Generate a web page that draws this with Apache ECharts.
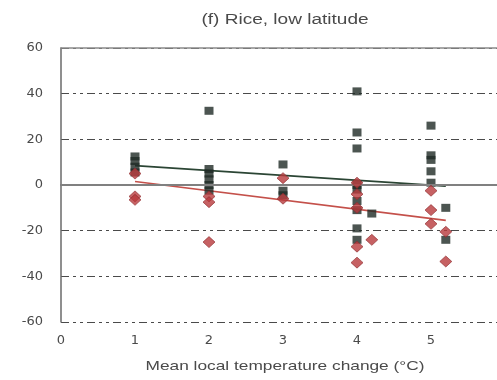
<!DOCTYPE html>
<html>
<head>
<meta charset="utf-8">
<script src="https://cdn.jsdelivr.net/npm/echarts@6/dist/echarts.min.js"></script>
<style>
  html, body { margin: 0; padding: 0; background: #fff; }
  #chart { width: 497px; height: 380px; }
</style>
</head>
<body>
<div id="chart"></div>
<script>
// Temperature-change groups (°C) at which the yield results are plotted
const tempSteps = [1, 2, 3, 4, 4.2, 5, 5.2];

// Yield change (%) without adaptation (squares), one list per temperature step
const squareValues = [
  [12.5, 10.5, 8, 5.5],
  [32.5, 7, 5, 2.5, 0, -2.5],
  [9, -2.5, -4.5],
  [41, 23, 16, 0, -2, -7, -11, -19, -24],
  [-12.5],
  [26, 13, 11, 6, 1],
  [-10, -24]
];

// Yield change (%) with adaptation (diamonds)
const diamondValues = [
  [5, -5, -6.5],
  [-5, -7.5, -25],
  [3, -6],
  [1, -4, -10, -27, -34],
  [-24],
  [-2.5, -11, -17],
  [-20.5, -33.5]
];

// Fitted trend lines: [temperature, yield change]
const squareFit = [[1, 8.5], [5.2, -0.5]];
const diamondFit = [[1, 1.5], [5.2, -15.5]];

const yTicks = [-60, -40, -20, 0, 20, 40, 60];
const xTicks = [0, 1, 2, 3, 4, 5, 6];

const titleText = '(f) Rice, low latitude';
const xAxisTitle = 'Mean local temperature change (°C)';

function toPoints(groups) {
  const pts = [];
  groups.forEach((vals, i) => vals.forEach(v => pts.push([tempSteps[i], v])));
  return pts;
}

const chart = echarts.init(document.getElementById('chart'), null, { renderer: 'canvas' });

const labelFont = { fontFamily: 'DejaVu Sans', fontSize: 13, color: '#4a4a4a' };

chart.setOption({
  animation: false,
  backgroundColor: '#ffffff',
  grid: { left: 61, top: 48, width: 444, height: 274, containLabel: false, outerBoundsMode: 'none' },
  xAxis: [
    {
      type: 'value',
      min: xTicks[0], max: xTicks[xTicks.length - 1], interval: 1,
      position: 'bottom',
      axisLine: { show: true, lineStyle: { color: '#6a6a6a', width: 1.5 } },
      axisTick: { show: false },
      splitLine: { show: false },
      axisLabel: Object.assign({ margin: 12 }, labelFont)
    },
    {
      type: 'value',
      min: xTicks[0], max: xTicks[xTicks.length - 1], interval: 1,
      position: 'top',
      axisLine: { show: true, lineStyle: { color: '#8a8a8a', width: 1.5 } },
      axisTick: { show: false },
      axisLabel: { show: false },
      splitLine: { show: false }
    }
  ],
  yAxis: {
    type: 'value',
    min: yTicks[0], max: yTicks[yTicks.length - 1], interval: 20,
    axisLine: { show: true, lineStyle: { color: '#6a6a6a', width: 1.5 } },
    axisTick: { show: false },
    axisLabel: Object.assign({ margin: 18 }, labelFont),
    splitLine: {
      show: true,
      lineStyle: { color: '#4a4a4a', width: 1.2, type: [8, 4, 3, 4, 3, 4] }
    }
  },
  series: [
    {
      type: 'line',
      data: squareFit,
      symbol: 'none',
      lineStyle: { color: '#2b4534', width: 1.6 },
      z: 3,
      markLine: {
        silent: true,
        symbol: 'none',
        label: { show: false },
        lineStyle: { color: '#808080', width: 2, type: 'solid' },
        data: [{ yAxis: 0 }]
      }
    },
    {
      type: 'line',
      data: diamondFit,
      symbol: 'none',
      lineStyle: { color: '#c4504a', width: 1.6 },
      z: 3
    },
    {
      type: 'scatter',
      data: toPoints(squareValues),
      symbol: 'rect',
      symbolSize: [9, 8],
      itemStyle: { color: '#1f2b25' },
      z: 4
    },
    {
      type: 'scatter',
      data: toPoints(diamondValues),
      symbol: 'diamond',
      symbolSize: [12, 11],
      itemStyle: { color: '#b8393c', borderColor: '#8e2a2e', borderWidth: 0.8 },
      z: 5
    }
  ],
  graphic: [
    {
      type: 'text',
      x: 285, y: 20,
      scaleX: 1.36,
      style: {
        text: titleText,
        font: '14px "Liberation Sans", Arial, sans-serif',
        fill: '#4a4a4a',
        textAlign: 'center',
        textVerticalAlign: 'middle'
      }
    },
    {
      type: 'text',
      x: 285, y: 366,
      scaleX: 1.33,
      style: {
        text: xAxisTitle,
        font: '13px "Liberation Sans", Arial, sans-serif',
        fill: '#4a4a4a',
        textAlign: 'center',
        textVerticalAlign: 'middle'
      }
    }
  ]
});
</script>
</body>
</html>
